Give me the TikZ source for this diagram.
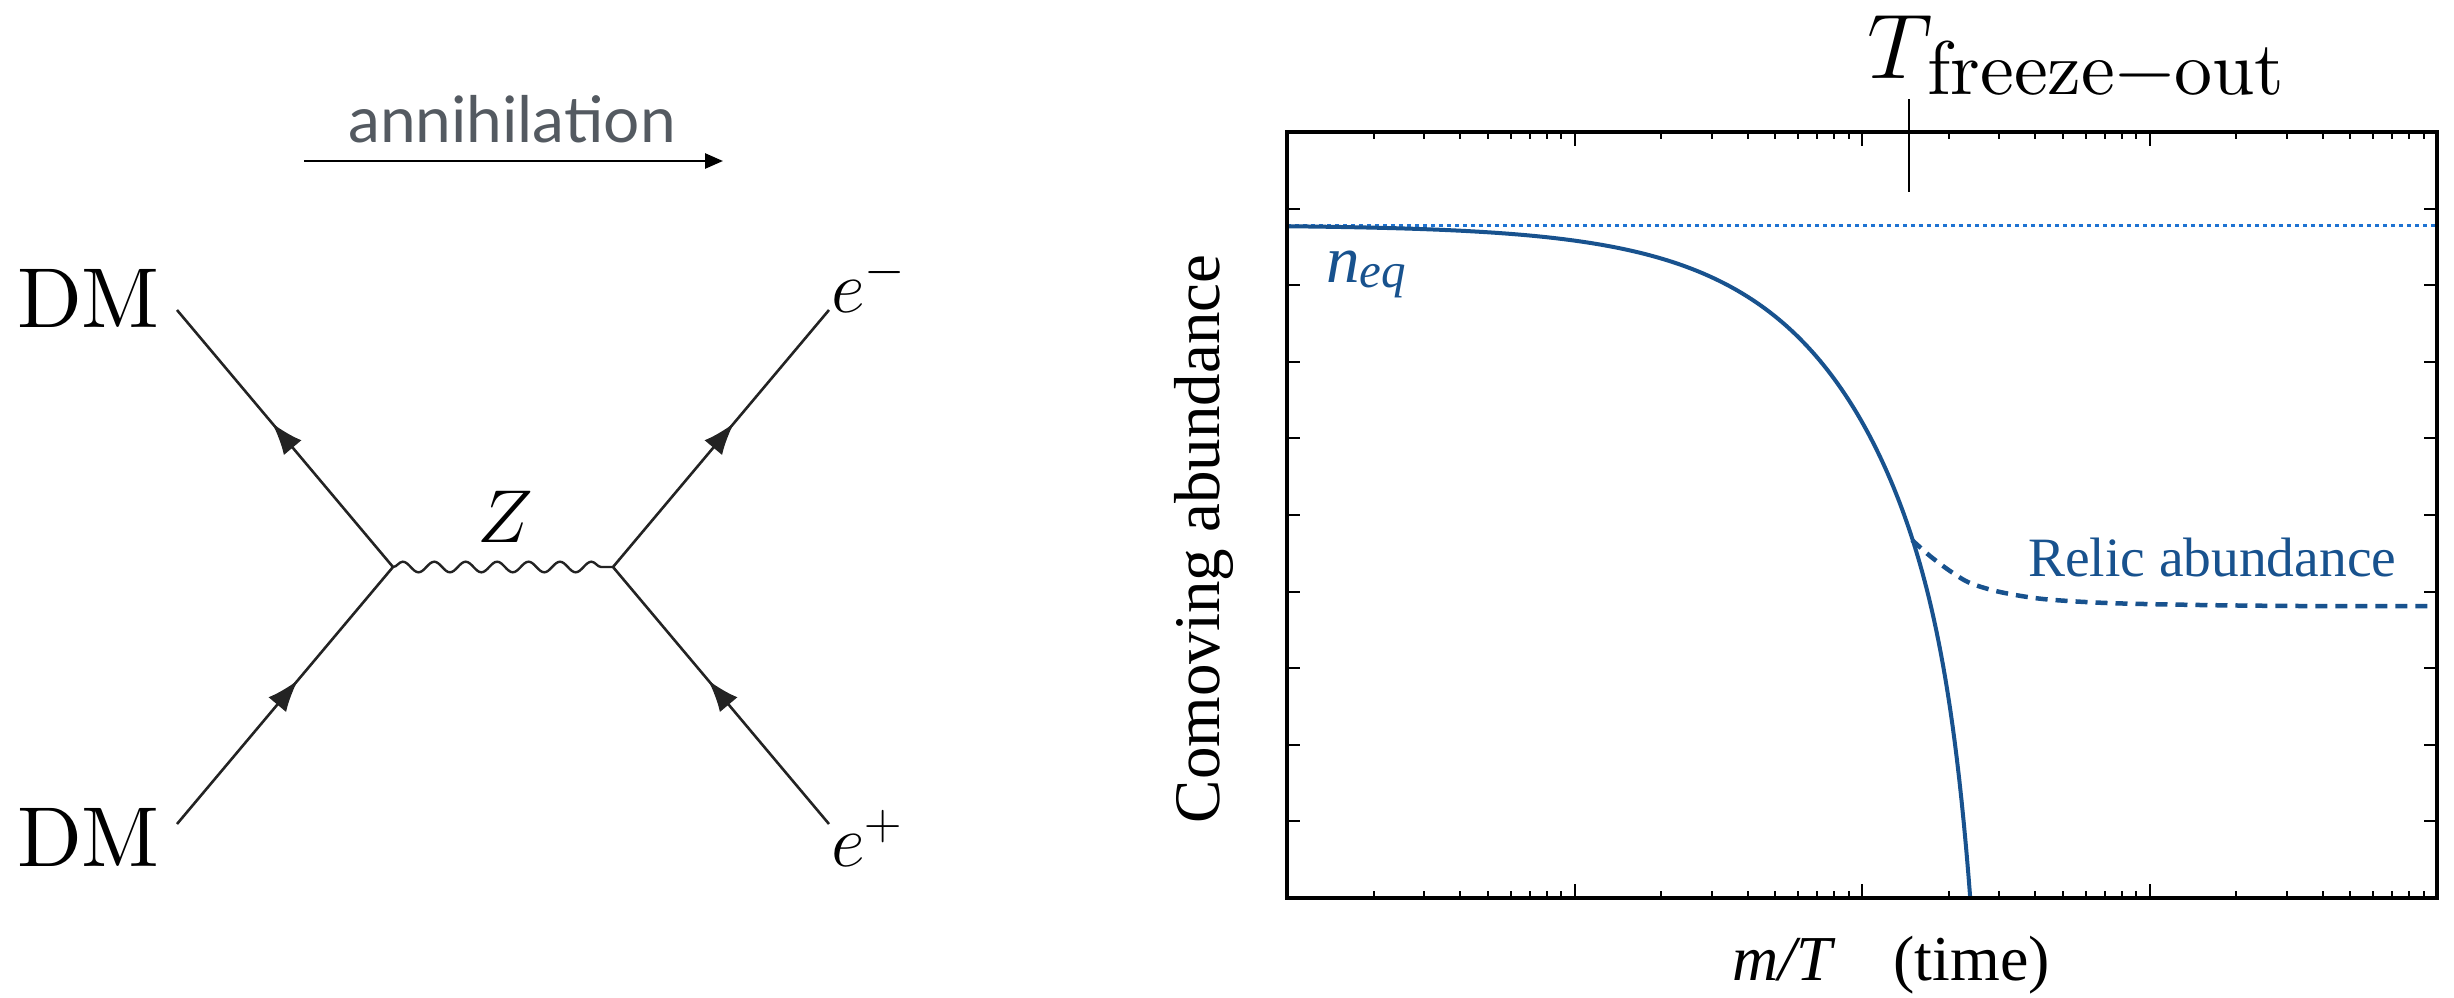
\RequirePackage{fix-cm}
\documentclass[tikz,border=0pt]{standalone}
\usepackage{fontspec}
\usetikzlibrary{arrows.meta,decorations.pathmorphing,decorations.markings}
\newfontfamily\latofont{Lato}
\newfontfamily\timesfont{Liberation Serif}
\newfontfamily\lmten{lmroman10-regular.otf}
\definecolor{curveblue}{RGB}{24,82,142}
\definecolor{dotblue}{RGB}{30,115,210}
\definecolor{labelgray}{RGB}{84,90,97}
\definecolor{linegray}{RGB}{35,35,35}
\tikzset{
  fermion/.style={draw=linegray, line width=2.6pt, postaction={decorate},
    decoration={markings, mark=at position 0.56 with {\arrow{Latex[length=32pt,width=23pt]}}}},
  boson/.style={draw=linegray, line width=2.4pt, decorate,
    decoration={snake, amplitude=5.3pt, segment length=31.43pt}},
  framebox/.style={line width=3.4pt},
  tickmark/.style={line width=2pt},
  lbl/.style={inner sep=0pt, outer sep=0pt},
}
\begin{document}
\begin{tikzpicture}[x=1pt,y=-1pt]
\useasboundingbox (0,0) rectangle (2454,998);
% ---------------- Feynman diagram ----------------
\coordinate (v1) at (393,567);
\coordinate (v2) at (613,567);
\coordinate (dmA) at (177,310);
\coordinate (dmB) at (177,824);
\coordinate (em) at (829,310);
\coordinate (ep) at (829,824);
\draw[fermion] (v1) -- (dmA);
\draw[fermion] (dmB) -- (v1);
\draw[fermion] (v2) -- (em);
\draw[fermion] (ep) -- (v2);
\draw[boson] (v1) -- (v2);
\node[lbl, anchor=base west, font=\lmten\fontsize{85}{90}\selectfont] (dmAl) at (17,327) {DM};
\node[lbl, anchor=base west, font=\lmten\fontsize{85}{90}\selectfont] (dmBl) at (17,866) {DM};
\node[lbl, anchor=base west, font=\fontsize{74}{80}\selectfont] (eml) at (831,312) {$e^-$};
\node[lbl, anchor=base west, font=\fontsize{74}{80}\selectfont] (epl) at (831,866) {$e^+$};
\node[lbl, anchor=base, font=\fontsize{75}{80}\selectfont] (zl) at (505,542) {$Z$};
% annihilation arrow
\node[lbl, anchor=base, font=\latofont\fontsize{64}{68}\selectfont, text=labelgray] (ann) at (512,142) {annihilation};
\coordinate (arrS) at (304,161);
\coordinate (arrE) at (723,161);
\draw[line width=2.6pt, -{Triangle[length=18pt,width=15pt]}] (arrS) -- (arrE);
% ---------------- Plot ----------------
\draw[dotblue, line width=3pt, dash pattern=on 3.5pt off 4.5pt] (1287,225) -- (2437,225);
\foreach \i in {1,...,9} {
  \pgfmathsetmacro{\yy}{898-76.6*\i}
  \draw[tickmark] (1287,\yy) -- ++(13,0);
  \draw[tickmark] (2437,\yy) -- ++(-13,0);
}
\foreach \d in {0,1,2,3} {
  \foreach \k in {2,...,9} {
    \pgfmathsetmacro{\xx}{1287+287.5*(\d+ln(\k)/ln(10))}
    \draw[tickmark] (\xx,898) -- ++(0,-7);
    \draw[tickmark] (\xx,132) -- ++(0,7);
  }
}
\foreach \d in {1,2,3} {
  \pgfmathsetmacro{\xx}{1287+287.5*\d}
  \draw[tickmark] (\xx,898) -- ++(0,-14);
  \draw[tickmark] (\xx,132) -- ++(0,14);
}
% curves
\begin{scope}
\clip (1287,132) rectangle (2437,898);
\draw[curveblue, line width=4pt] plot[domain=0:2.39, samples=300, variable=\u]
  ({1287+287.5*\u}, {225 + 1.24*exp(2.5328*\u) + 162*exp(max(-20,15.105*(\u-2.376)))});
\end{scope}
\draw[curveblue, line width=4.5pt, dash pattern=on 12pt off 8pt] plot[smooth, tension=0.5] coordinates {
  (1912,540) (1930,556) (1950,571) (1970,583) (2000,592) (2043,599) (2107,603)
  (2200,605) (2300,606) (2437,606)};
\draw[framebox] (1287,132) rectangle (2437,898);
% freeze-out marker
\coordinate (fTop) at (1909,99);
\coordinate (fBot) at (1909,192);
\draw[line width=2.6pt] (fTop) -- (fBot);
\node[lbl, anchor=base west] (tfo) at (1867,78)
  {\fontsize{92}{96}\selectfont$T$\kern-5pt\raisebox{-16pt}{\lmten\fontsize{76}{80}\selectfont freeze−out}};
% labels
\node[lbl, anchor=base west, text=curveblue] (neq) at (1326,282)
  {\timesfont\itshape\fontsize{67}{70}\selectfont n\raisebox{-5pt}{\fontsize{49}{50}\selectfont eq}};
\node[lbl, anchor=base west, text=curveblue, font=\timesfont\fontsize{55.5}{60}\selectfont] (relic) at (2028,576) {Relic abundance};
\node[lbl, anchor=base, rotate=90, font=\timesfont\fontsize{65}{70}\selectfont] (ylab) at (1219,539) {Comoving abundance};
\node[lbl, anchor=base west, font=\timesfont\fontsize{64}{70}\selectfont] (xlab) at (1732,980) {\textit{m/T}\hspace{58pt}(time)};
\end{tikzpicture}
\end{document}
